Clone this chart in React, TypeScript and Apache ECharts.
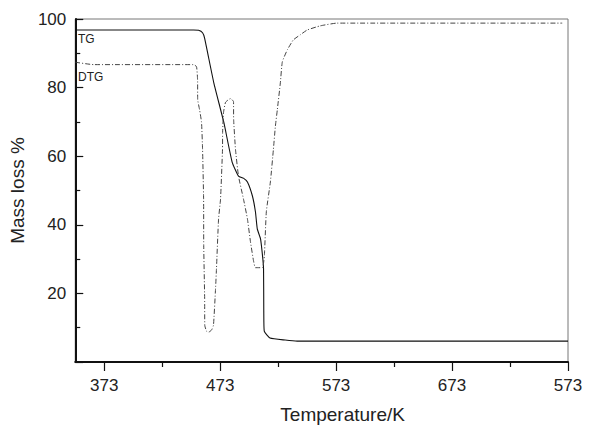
import React, { useEffect, useRef } from "react";
import * as echarts from "echarts";

// Temperature (K) / mass loss (%)
const tgTemp = [348, 450, 454.4, 457.8, 459.5, 467.5, 476.1, 483.3, 488.8, 493, 496.5, 500.8, 503.4, 505, 507.8, 509.5, 510.4, 510.6, 511, 516, 529, 539.4, 773];
const tgValue = [96.8, 96.8, 96.7, 96.0, 94.5, 81.4, 69.9, 58.3, 54.2, 53.6, 52.5, 48.4, 43.8, 38.8, 35.9, 31.0, 27.2, 14.8, 9.0, 7.0, 6.4, 6.1, 6.1];

const dtgTemp = [348, 364, 450, 452.6, 453.5, 453.6, 455.2, 456.9, 457.8, 458.7, 458.8, 459.6, 459.7, 461.2, 463, 465.5, 467.2, 469, 469.8, 471.6, 473.3, 475, 475.1, 475.9, 477.6, 480.2, 481.9, 484.5, 484.6, 486.2, 488.8, 493.1, 496.5, 499.1, 501.7, 503.4, 509.4, 511.1, 512.8, 516.3, 518.9, 520.6, 522.3, 524.9, 526.6, 530.9, 536.1, 542.1, 548.1, 559.3, 573.9, 768];
const dtgValue = [87.4, 86.7, 86.7, 86.1, 82.3, 76.5, 73.6, 69.9, 62.0, 47.5, 33.9, 18.6, 10.7, 9.0, 8.7, 9.3, 10.7, 21.4, 27.2, 41.7, 47.5, 62.0, 67.0, 72.8, 75.7, 76.5, 76.8, 75.9, 70.7, 62.0, 54.2, 47.5, 41.7, 35.1, 29.6, 27.5, 27.5, 31.0, 43.8, 52.5, 62.0, 68.7, 73.6, 81.4, 87.5, 91.0, 93.9, 95.4, 96.8, 98.0, 98.8, 98.8];

const xTickValues = [373, 473, 573, 673, 773];
const xTickLabels = ["373", "473", "573", "673", "573"];
const xMinorTicks = [423, 523, 623, 723];

const FONT = "Liberation Sans, Arial, Helvetica, sans-serif";

export default function App() {
  const ref = useRef<HTMLDivElement>(null);
  useEffect(() => {
    if (!ref.current) return;
    const chart = echarts.init(ref.current, undefined, { renderer: "svg" });
    const tgData = tgTemp.map((t, i) => [t, tgValue[i]]);
    const dtgData = dtgTemp.map((t, i) => [t, dtgValue[i]]);
    chart.setOption({
      animation: false,
      backgroundColor: "#ffffff",
      grid: {
        left: 74,
        right: 26,
        top: 19,
        bottom: 65,
        show: true,
        borderColor: "#777",
        borderWidth: 1,
      },
      xAxis: [
        {
          type: "value",
          min: 348,
          max: 773,
          name: "Temperature/K",
          nameLocation: "middle",
          nameGap: 43,
          nameTextStyle: { fontFamily: FONT, fontSize: 19, color: "#222", padding: [0, 0, 0, 42] },
          axisLine: { show: true, lineStyle: { color: "#111", width: 2 } },
          axisTick: { show: true, customValues: xTickValues, length: 9, lineStyle: { color: "#111", width: 1.2 } },
          axisLabel: {
            customValues: xTickValues,
            formatter: (v: number) => xTickLabels[xTickValues.indexOf(v)] ?? "",
            fontFamily: FONT,
            fontSize: 17,
            color: "#222",
            margin: 15,
          },
          splitLine: { show: false },
        },
        {
          type: "value",
          min: 348,
          max: 773,
          position: "bottom",
          axisLine: { show: false },
          axisTick: { show: true, customValues: xMinorTicks, length: 5, lineStyle: { color: "#111", width: 1.2 } },
          axisLabel: { show: false },
          splitLine: { show: false },
        },
      ],
      yAxis: {
        type: "value",
        min: 0,
        max: 100,
        interval: 20,
        name: "Mass loss %",
        nameLocation: "middle",
        nameGap: 38,
        nameTextStyle: { fontFamily: FONT, fontSize: 19, color: "#222" },
        axisLine: { show: true, lineStyle: { color: "#111", width: 2 } },
        axisTick: { show: true, inside: true, length: 8, lineStyle: { color: "#111", width: 1.2 } },
        minorTick: { show: true, splitNumber: 2, length: 5, lineStyle: { color: "#111", width: 1.2 } },
        axisLabel: { showMinLabel: false, fontFamily: FONT, fontSize: 17, color: "#222", margin: 9 },
        splitLine: { show: false },
      },
      series: [
        {
          name: "TG",
          type: "line",
          data: tgData,
          showSymbol: false,
          smooth: 0.15,
          lineStyle: { color: "#111", width: 1.1, type: "solid" },
        },
        {
          name: "DTG",
          type: "line",
          data: dtgData,
          showSymbol: false,
          smooth: 0.15,
          lineStyle: { color: "#444", width: 1, type: [5, 2, 1, 2] },
        },
      ],
      graphic: [
        { type: "text", left: 78, top: 33, style: { text: "TG", font: `12px ${FONT}`, fill: "#222" } },
        { type: "text", left: 78, top: 71, style: { text: "DTG", font: `12px ${FONT}`, fill: "#222" } },
      ],
    });
    return () => chart.dispose();
  }, []);
  return (
    <div
      ref={ref}
      style={{ position: "fixed", left: 0, top: 0, width: 594, height: 429, background: "#fff" }}
    />
  );
}
